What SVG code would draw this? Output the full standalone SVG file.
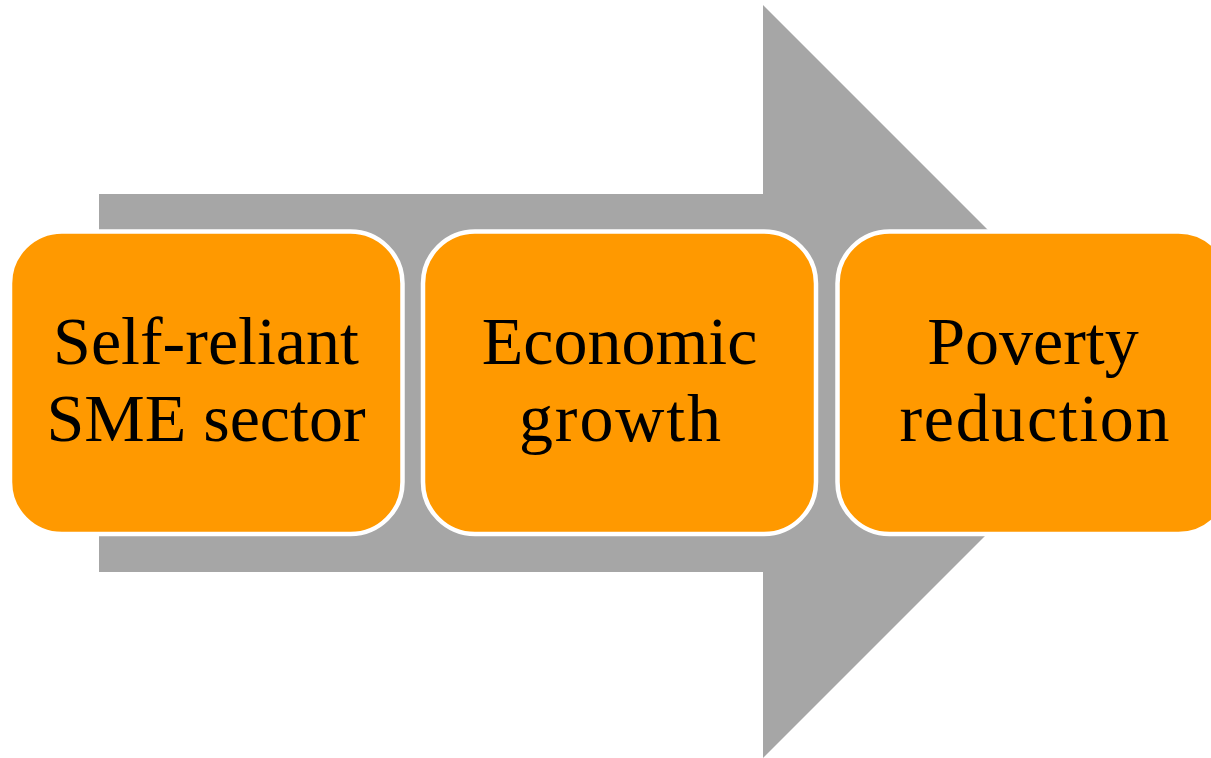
<svg xmlns="http://www.w3.org/2000/svg" width="1211" height="758" viewBox="0 0 1211 758">
<style>
.box{fill:#FF9900;stroke:#FFFFFF;stroke-width:4.5}
.lbl{font-family:"Liberation Serif","Times New Roman",serif;font-size:68px;fill:#000000;text-anchor:middle}
</style>
<rect width="1211" height="758" fill="#FFFFFF"/>
<g id="arrow">
<polygon points="99,194 763,194 763,5 1139.5,381.5 763,758 763,572 99,572" fill="#A6A6A6"/>
</g>
<g id="connectors"></g>
<g id="node1">
<rect class="box" x="10" y="231.5" width="392.5" height="302.5" rx="52" ry="52"/>
<text class="lbl" x="206" y="364">Self-reliant</text>
<text class="lbl" x="206" y="441">SME sector</text>
</g>
<g id="node2">
<rect class="box" x="423" y="231.5" width="393" height="302.5" rx="52" ry="52"/>
<text class="lbl" x="619.5" y="364">Economic</text>
<text class="lbl" x="620" y="441" textLength="202" lengthAdjust="spacing">growth</text>
</g>
<g id="node3">
<rect class="box" x="837.5" y="231.5" width="393" height="302.5" rx="52" ry="52"/>
<text class="lbl" x="1033" y="364">Poverty</text>
<text class="lbl" x="1034.5" y="441" textLength="270" lengthAdjust="spacing">reduction</text>
</g>
</svg>
